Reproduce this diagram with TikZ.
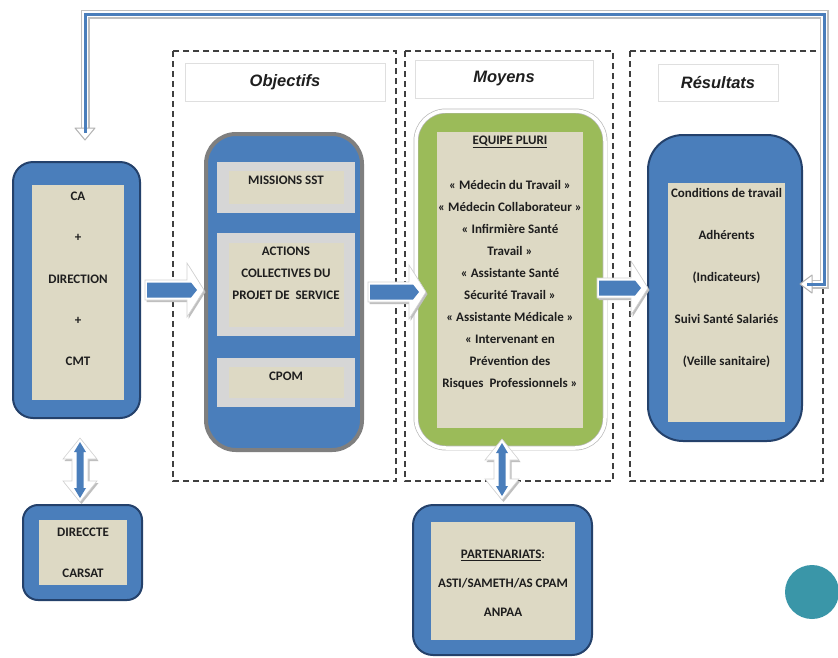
\documentclass[tikz,border=0pt]{standalone}
\usepackage{fontspec}
\setmainfont{Carlito}
\newfontfamily\titlefont{Liberation Sans}
\usetikzlibrary{calc,arrows.meta}
\definecolor{ablue}{HTML}{4A7EBB}
\definecolor{navy}{HTML}{24416B}
\definecolor{beige}{HTML}{DDD9C4}
\definecolor{lgrey}{HTML}{D6D6D6}
\definecolor{mgrey}{HTML}{7F7F7F}
\definecolor{agreen}{HTML}{9BBB59}
\definecolor{tealdot}{HTML}{3A96A8}
\definecolor{ink}{HTML}{1E1E1E}
\definecolor{dashcol}{HTML}{3F3F3F}
\newcommand\fsz[2]{\fontsize{#1}{#2}\selectfont}
\newcommand\harrowpath{($(hs)+(0,-10)$) -- ($(ht)+(-17,-10)$) -- ($(ht)+(-17,-27)$) -- (ht) -- ($(ht)+(-17,27)$) -- ($(ht)+(-17,10)$) -- ($(hs)+(0,10)$) -- cycle}
\newcommand\harrowblue{($(hs)+(2,-7.5)$) -- ($(ht)+(-13,-7.5)$) -- ($(ht)+(-7,0)$) -- ($(ht)+(-13,7.5)$) -- ($(hs)+(2,7.5)$) -- cycle}
\newcommand\harrow[2]{%
  \coordinate (hs) at (#1);
  \coordinate (ht) at ($(hs)+(#2,0)$);
  \fill[gray!50, transform canvas={shift={(1.5pt,-2pt)}}] \harrowpath;
  \filldraw[fill=white, draw=gray!35, line width=.6pt] \harrowpath;
  \fill[ablue] \harrowblue;}
\newcommand\varrowpath{(vt) -- ($(vt)+(17,21)$) -- ($(vt)+(8,21)$) -- ($(vb)+(8,-21)$) -- ($(vb)+(17,-21)$) -- (vb) -- ($(vb)+(-17,-21)$) -- ($(vb)+(-8,-21)$) -- ($(vt)+(-8,21)$) -- ($(vt)+(-17,21)$) -- cycle}
\newcommand\varrowblue{($(vt)+(0,4)$) -- ($(vt)+(6,14)$) -- ($(vt)+(3.5,14)$) -- ($(vb)+(3.5,-14)$) -- ($(vb)+(6,-14)$) -- ($(vb)+(0,-4)$) -- ($(vb)+(-6,-14)$) -- ($(vb)+(-3.5,-14)$) -- ($(vt)+(-3.5,14)$) -- ($(vt)+(-6,14)$) -- cycle}
\newcommand\varrow{%
  \fill[gray!50, transform canvas={shift={(1.5pt,-2pt)}}] \varrowpath;
  \filldraw[fill=white, draw=gray!35, line width=.6pt] \varrowpath;
  \fill[ablue] \varrowblue;}
\newcommand\fbpath{(fbS) -- (fbS -| fbR) -- (fbR) -- (fbL) -- (fbT)}
\begin{document}
\begin{tikzpicture}[x=1pt,y=-1pt,
  box/.style={rectangle, anchor=north west, inner sep=0pt, outer sep=0pt},
  bluebox/.style={box, fill=ablue, draw=navy, line width=2pt},
  beigebox/.style={box, fill=beige},
  greybox/.style={box, fill=lgrey},
  titlebox/.style={box, fill=white, draw=gray!25, line width=.8pt, font=\titlefont\bfseries\itshape\fsz{16.5}{20}, text=ink},
  txt/.style={align=center, inner sep=0pt, text=ink, font=\bfseries\fsz{13}{#1}},
  txt/.default=16,
  dashbox/.style={draw=dashcol, line width=1.1pt, dash pattern=on 6pt off 4pt},
  fbhead/.style={fill=white, draw=gray!60, line width=1pt, line join=round}]
\useasboundingbox (0,0) rectangle (838,657);
\fill[white] (0,0) rectangle (838,657);

% dashed columns
\draw[dashbox] (173,51) rectangle (396,481);
\draw[dashbox] (405,51) rectangle (613,481);
\draw[dashbox] (630,51) rectangle (823,481);

% titles
\node[titlebox, minimum width=200pt, minimum height=38pt] (tobj) at (185,63) {Objectifs};
\node[titlebox, minimum width=178pt, minimum height=38pt] (tmoy) at (415,60) {Moyens};
\node[titlebox, minimum width=120pt, minimum height=37pt] (tres) at (658,64) {Résultats};

% CA box
\node[bluebox, rounded corners=20pt, minimum width=127pt, minimum height=256pt] (ca) at (13,162) {};
\node[beigebox, minimum width=92pt, minimum height=215pt] (cain) at (32,185) {};
\node[txt=41.3] (catxt) at (78,279) {CA\\+\\DIRECTION\\+\\CMT};

% Objectifs box
\node[box, fill=ablue, draw=mgrey, line width=4pt, rounded corners=30pt, minimum width=156pt, minimum height=316pt] (obj) at (206,134) {};
\node[greybox, minimum width=138pt, minimum height=51pt] (m1g) at (217,162) {};
\node[beigebox, minimum width=115pt, minimum height=33pt] (m1b) at (229,171) {};
\node[txt] (m1txt) at (286,180) {MISSIONS SST};
\node[greybox, minimum width=138pt, minimum height=103pt] (m2g) at (217,233) {};
\node[beigebox, minimum width=115pt, minimum height=84pt] (m2b) at (229,243) {};
\node[txt=22] (m2txt) at (286,273) {ACTIONS\\COLLECTIVES DU\\PROJET DE\ \ SERVICE};
\node[greybox, minimum width=138pt, minimum height=49pt] (m3g) at (217,358) {};
\node[beigebox, minimum width=115pt, minimum height=31pt] (m3b) at (229,367) {};
\node[txt] (m3txt) at (286,376) {CPOM};

% Moyens box
\node[box, fill=agreen, draw=gray!55, double=white, double distance=3.5pt, line width=.7pt, rounded corners=30pt, minimum width=189pt, minimum height=337pt] (moy) at (416,111) {};
\node[beigebox, minimum width=146pt, minimum height=296pt] (moyin) at (437,132) {};
\node[txt] (equipe) at (510,142) {\underline{EQUIPE PLURI}};
\node[txt=22] (moytxt) at (510,285) {« Médecin du Travail »\\« Médecin Collaborateur »\\« Infirmière Santé\\Travail »\\« Assistante Santé\\Sécurité Travail »\\« Assistante Médicale »\\« Intervenant en\\Prévention des\\Risques\ \ Professionnels »};

% Résultats box
\node[bluebox, rounded corners=35pt, minimum width=154pt, minimum height=306pt] (res) at (648,135) {};
\node[beigebox, minimum width=117pt, minimum height=239pt] (resin) at (668,183) {};
\node[txt=42] (restxt) at (726.5,278) {Conditions de travail\\Adhérents\\(Indicateurs)\\Suivi Santé Salariés\\(Veille sanitaire)};

% DIRECCTE box
\node[bluebox, rounded corners=15pt, minimum width=119pt, minimum height=95pt] (dir) at (23,505) {};
\node[beigebox, minimum width=88pt, minimum height=65pt] (dirin) at (39,520) {};
\node[txt=41] (dirtxt) at (83,552.5) {DIRECCTE\\CARSAT};

% Partenariats box
\node[bluebox, rounded corners=20pt, minimum width=179pt, minimum height=150pt] (part) at (413,505) {};
\node[beigebox, minimum width=144pt, minimum height=118pt] (partin) at (431,522) {};
\node[txt=29] (parttxt) at (503,583) {\underline{PARTENARIATS}:\\ASTI/SAMETH/AS CPAM\\ANPAA};

% teal dot
\node[circle, fill=tealdot, minimum size=54pt, inner sep=0pt] (dot) at (812,592) {};

% block arrows
\harrow{$(ca.east)+(5,0)$}{59}
\harrow{$(obj.east)+(6,0)$}{58}
\harrow{$(res.west)+(-51,0)$}{51}

% double arrows
\coordinate (vt) at ($(ca.south)+(3.5,20)$);
\path (vt |- dir.north) ++(0,-3) coordinate (vb);
\varrow
\coordinate (vt) at ($(moy.south)+(-8.5,-9)$);
\path (vt |- part.north) ++(0,-5) coordinate (vb);
\varrow

% feedback loop (Résultats back to CA)
\coordinate (fbR) at (824,14);
\coordinate (fbL) at (85,14);
\path (res.east) ++(-2,-4) coordinate (fbTipR);
\path (fbTipR) ++(12,0) coordinate (fbS);
\path (fbL |- ca.north) ++(0,-22) coordinate (fbTipL);
\path (fbTipL) ++(0,-12) coordinate (fbT);
\draw[gray!50, line width=9pt] \fbpath;
\draw[white, line width=6.5pt] \fbpath;
\draw[ablue, line width=3pt] \fbpath;
\filldraw[fbhead] (fbTipL) -- ($(fbT)+(-10,0)$) -- ($(fbT)+(10,0)$) -- cycle;
\filldraw[fbhead] (fbTipR) -- ($(fbS)+(0,-9)$) -- ($(fbS)+(0,9)$) -- cycle;
\fill[ablue] ($(fbT)+(-1.5,-1)$) rectangle ($(fbT)+(1.5,5)$);
\fill[ablue] ($(fbS)+(1,-1.5)$) rectangle ($(fbS)+(-5,1.5)$);
\end{tikzpicture}
\end{document}
